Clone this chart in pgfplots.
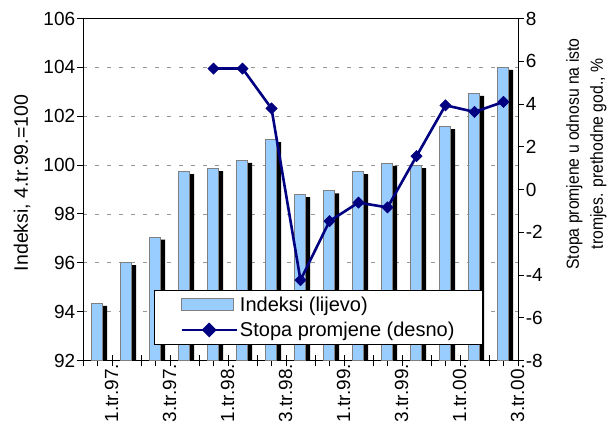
\documentclass[border=0pt]{standalone}
\usepackage{pgfplots}
\usepackage{pgfplotstable}
\pgfplotsset{compat=1.18}
\usepackage{fontspec}
\setmainfont{Liberation Sans}
\newfontfamily\narrowfont[FakeStretch=0.9]{Liberation Sans}
\definecolor{barblue}{RGB}{153,204,255}
\definecolor{bargray}{RGB}{128,128,128}
\definecolor{navyline}{RGB}{0,0,128}
\definecolor{gridgray}{RGB}{150,150,150}
\pgfplotstableread{
i v
0 94.34
1 96.00
2 97.05
3 99.73
4 99.85
5 100.19
6 101.04
7 98.79
8 98.94
9 99.73
10 100.07
11 99.98
12 101.57
13 102.93
14 104.00
}\idx
\pgfplotstableread{
i r
4 5.66
5 5.66
6 3.79
7 -4.24
8 -1.48
9 -0.61
10 -0.84
11 1.56
12 3.94
13 3.63
14 4.10
}\rate
\begin{document}
\begin{tikzpicture}[x=1pt,y=1pt]
\useasboundingbox (0,0) rectangle (608,442);
\pgfplotsset{
  base/.style={
    scale only axis, width=435pt, height=342pt,
    at={(83pt,81.5pt)}, anchor=south west,
    xmin=-0.5, xmax=14.5,
    /pgf/number format/assume math mode=true,
    tick label style={font=\fontsize{19}{22}\selectfont},
    axis line style={black, line width=0.9pt},
    major tick style={black, line width=0.9pt},
  }
}
\begin{axis}[base,
  ymin=92, ymax=106, ytick={92,94,...,106},
  ytick pos=left, ytick align=outside,
  xtick={-0.5,0.5,...,14.5}, xticklabels={}, xtick pos=bottom, xtick align=center,
  xtick style={/pgfplots/major tick length=11pt},
  ytick style={/pgfplots/major tick length=6pt},
  extra x ticks={0,2,...,14},
  extra x tick labels={1.tr.97.,3.tr.97.,1.tr.98.,3.tr.98.,1.tr.99.,3.tr.99.,1.tr.00.,3.tr.00.},
  extra x tick style={major tick length=0pt, grid=none},
  xticklabel style={rotate=90, anchor=east, yshift=-14pt},
  ymajorgrids, grid style={gridgray, line width=0.8pt, dash pattern=on 4pt off 8pt},
  ylabel={Indeksi, 4.tr.99.=100},
  every axis y label/.style={at={(axis description cs:-0.140,0.519)}, rotate=90, anchor=center, font=\fontsize{19.5}{22}\selectfont},
]
\addplot[ybar, bar width=12pt, bar shift=3.5pt, fill=black, draw=none] table[x=i, y expr=\thisrow{v}-0.1] {\idx};
\addplot[ybar, bar width=11pt, bar shift=-0.7pt, fill=barblue, draw=bargray, line width=1pt] table[x=i, y=v] {\idx};
\end{axis}
\begin{axis}[base,
  ymin=-8, ymax=8, ytick={-8,-6,...,8},
  axis y line*=right, axis x line=none, ytick align=outside,
  ytick style={/pgfplots/major tick length=6pt},
  ylabel={Stopa promjene u odnosu na isto\\tromjes. prethodne god., \%},
  every axis y label/.style={at={(axis description cs:1.157,0.604)}, rotate=90, anchor=center, align=center, font=\narrowfont\fontsize{17.5}{24}\selectfont},
  legend style={at={(axis description cs:0.1632,0.206)}, anchor=north west, draw=black, line width=0.8pt, fill=white, inner xsep=26pt, inner ysep=4.5pt, row sep=5pt, font=\fontsize{20}{22}\selectfont, nodes={inner sep=2pt}},
  legend cell align=left,
]
\addlegendimage{legend image code/.code={\draw[fill=barblue, draw=bargray, line width=1pt] (0pt,-6pt) rectangle (52pt,6pt);}}
\addlegendentry{Indeksi (lijevo)}
\addplot[navyline, line width=2.6pt, mark=square*, mark size=4pt, mark options={rotate=45, solid, line width=0.5pt, fill=navyline},
  legend image code/.code={\draw[navyline, line width=2.6pt] (0pt,0pt) -- (55pt,0pt); \fill[navyline, rotate around={45:(27.5pt,0pt)}] (23.5pt,-4pt) rectangle (31.5pt,4pt);}]
  table[x=i, y=r] {\rate};
\addlegendentry{Stopa promjene (desno)}
\end{axis}
\end{tikzpicture}
\end{document}
